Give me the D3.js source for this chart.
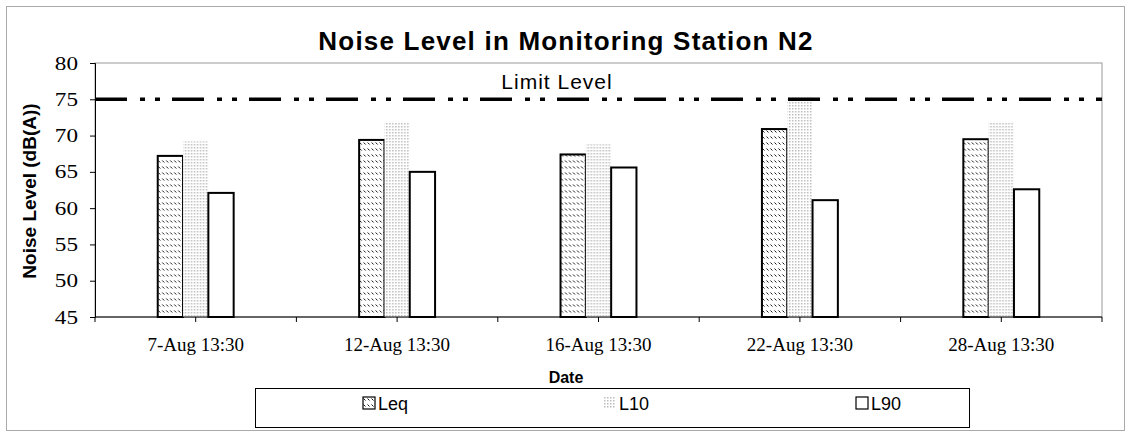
<!DOCTYPE html>
<html>
<head>
<meta charset="utf-8">
<script src="https://cdn.jsdelivr.net/npm/d3@7.9.0/dist/d3.min.js"></script>
<style>
  body { margin: 0; background: #fff; }
  svg { display: block; }
</style>
</head>
<body>
<svg id="chart" width="1131" height="437"></svg>
<script>
// ---- data ----
const dates = ["7-Aug 13:30", "12-Aug 13:30", "16-Aug 13:30", "22-Aug 13:30", "28-Aug 13:30"];
const seriesNames = ["Leq", "L10", "L90"];
const leq = [67.2, 69.4, 67.4, 70.9, 69.5];
const l10 = [69.2, 71.9, 68.8, 75.3, 71.9];
const l90 = [62.1, 65.0, 65.6, 61.1, 62.6];
const yTicks = [45, 50, 55, 60, 65, 70, 75, 80];
const limitLevel = 75;

const rows = dates.map((d, i) => ({ date: d, Leq: leq[i], L10: l10[i], L90: l90[i] }));

// ---- setup ----
const svg = d3.select("#chart");
const W = 1131, H = 437;
const margin = { top: 63, right: 29, bottom: 120, left: 95 };
const innerW = W - margin.left - margin.right;
const innerH = H - margin.top - margin.bottom;
const sans = "Liberation Sans, Arial, sans-serif";
const serif = "Liberation Serif, Times New Roman, serif";

// patterns
const defs = svg.append("defs");
const pLeq = defs.append("pattern").attr("id", "pLeq")
  .attr("patternUnits", "userSpaceOnUse").attr("width", 4).attr("height", 6);
pLeq.append("rect").attr("width", 4).attr("height", 6).attr("fill", "#fff");
pLeq.append("line").attr("x1", 0.5).attr("y1", 1.5).attr("x2", 2.5).attr("y2", 3.5)
  .attr("stroke", "#111").attr("stroke-width", 1);

const pL10 = defs.append("pattern").attr("id", "pL10")
  .attr("patternUnits", "userSpaceOnUse").attr("width", 3).attr("height", 3);
pL10.append("rect").attr("width", 3).attr("height", 3).attr("fill", "#fff");
pL10.append("rect").attr("width", 1.5).attr("height", 1.5).attr("fill", "#bdbdbd");

const fills = { Leq: "url(#pLeq)", L10: "url(#pL10)", L90: "#fff" };
const strokes = { Leq: "#000", L10: "none", L90: "#000" };

// outer chart frame
svg.append("rect")
  .attr("x", 6.5).attr("y", 6.5).attr("width", 1118).attr("height", 424)
  .attr("fill", "none").attr("stroke", "#aaa").attr("stroke-width", 1);

const g = svg.append("g").attr("transform", `translate(${margin.left},${margin.top})`);

// plot area border
g.append("rect")
  .attr("x", 0).attr("y", 0).attr("width", innerW).attr("height", innerH)
  .attr("fill", "none").attr("stroke", "#999").attr("stroke-width", 1);

// ---- scales ----
const x = d3.scaleBand().domain(dates).range([0, innerW])
  .paddingInner(0.623).paddingOuter(0.3115);
const xs = d3.scaleBand().domain(seriesNames).range([0, x.bandwidth()]);
const y = d3.scaleLinear().domain([45, 80]).range([innerH, 0]);

// ---- bars ----
const groups = g.selectAll(".grp").data(rows).join("g")
  .attr("class", "grp")
  .attr("transform", d => `translate(${x(d.date)},0)`);

groups.selectAll("rect")
  .data(d => seriesNames.map(k => ({ key: k, value: d[k] })))
  .join("rect")
  .attr("x", d => xs(d.key))
  .attr("y", d => y(d.value))
  .attr("width", xs.bandwidth())
  .attr("height", d => innerH - y(d.value))
  .attr("fill", d => fills[d.key])
  .attr("stroke", d => strokes[d.key])
  .attr("stroke-width", 2);

// ---- limit line ----
g.append("line")
  .attr("x1", 0).attr("x2", innerW)
  .attr("y1", y(limitLevel)).attr("y2", y(limitLevel))
  .attr("stroke", "#000").attr("stroke-width", 3.5)
  .attr("stroke-dasharray", "32,13,5,10,5,12");

g.append("text")
  .attr("x", 462).attr("y", y(limitLevel) - 10)
  .attr("text-anchor", "middle")
  .attr("font-family", sans)
  .attr("font-size", 21).attr("letter-spacing", 1)
  .text("Limit Level");

// ---- axes ----
const yAxis = g.append("g")
  .call(d3.axisLeft(y).tickValues(yTicks).tickSize(5).tickPadding(12));
yAxis.select(".domain").attr("stroke", "#000");
yAxis.selectAll(".tick line").attr("stroke", "#000");
yAxis.selectAll("text")
  .attr("x", 0)
  .attr("transform", "translate(-17,0) scale(1.22,1)")
  .attr("font-family", serif)
  .attr("font-size", 19).attr("fill", "#000");

// x axis: baseline and ticks every half category step
g.append("line")
  .attr("x1", 0).attr("x2", innerW).attr("y1", innerH).attr("y2", innerH)
  .attr("stroke", "#000").attr("stroke-width", 1);
const halfStep = x.step() / 2;
g.selectAll(".xtick").data(d3.range(0, dates.length * 2 + 1)).join("line")
  .attr("class", "xtick")
  .attr("x1", i => i * halfStep).attr("x2", i => i * halfStep)
  .attr("y1", innerH).attr("y2", innerH + 5)
  .attr("stroke", "#000");

g.selectAll(".xlabel").data(dates).join("text")
  .attr("class", "xlabel")
  .attr("x", d => x(d) + x.bandwidth() / 2)
  .attr("y", innerH + 34)
  .attr("text-anchor", "middle")
  .attr("font-family", serif)
  .attr("font-size", 19)
  .text(d => d);

// ---- titles ----
svg.append("text")
  .attr("x", 566).attr("y", 50)
  .attr("text-anchor", "middle")
  .attr("font-family", sans)
  .attr("font-weight", "bold").attr("font-size", 26)
  .attr("letter-spacing", 1.2)
  .text("Noise Level in Monitoring Station N2");

svg.append("text")
  .attr("transform", "translate(36,191) rotate(-90)")
  .attr("text-anchor", "middle")
  .attr("font-family", sans)
  .attr("font-weight", "bold").attr("font-size", 19)
  .text("Noise Level (dB(A))");

svg.append("text")
  .attr("x", 566).attr("y", 383)
  .attr("text-anchor", "middle")
  .attr("font-family", sans)
  .attr("font-weight", "bold").attr("font-size", 16)
  .text("Date");

// ---- legend ----
const legend = svg.append("g");
legend.append("rect")
  .attr("x", 255.5).attr("y", 388.5).attr("width", 714).attr("height", 39)
  .attr("fill", "#fff").attr("stroke", "#000").attr("stroke-width", 1);

const legendX = d3.scaleOrdinal().domain(seriesNames).range([363, 604, 856]);
const items = legend.selectAll(".li").data(seriesNames).join("g")
  .attr("class", "li")
  .attr("transform", d => `translate(${legendX(d)},403)`);
items.append("rect")
  .attr("x", 0).attr("y", -6).attr("width", 12).attr("height", 12)
  .attr("fill", d => fills[d])
  .attr("stroke", d => d === "L10" ? "none" : "#000").attr("stroke-width", 1.2);
items.append("text")
  .attr("x", 15).attr("y", 7)
  .attr("font-family", sans)
  .attr("font-size", 18)
  .text(d => d);
</script>
</body>
</html>
